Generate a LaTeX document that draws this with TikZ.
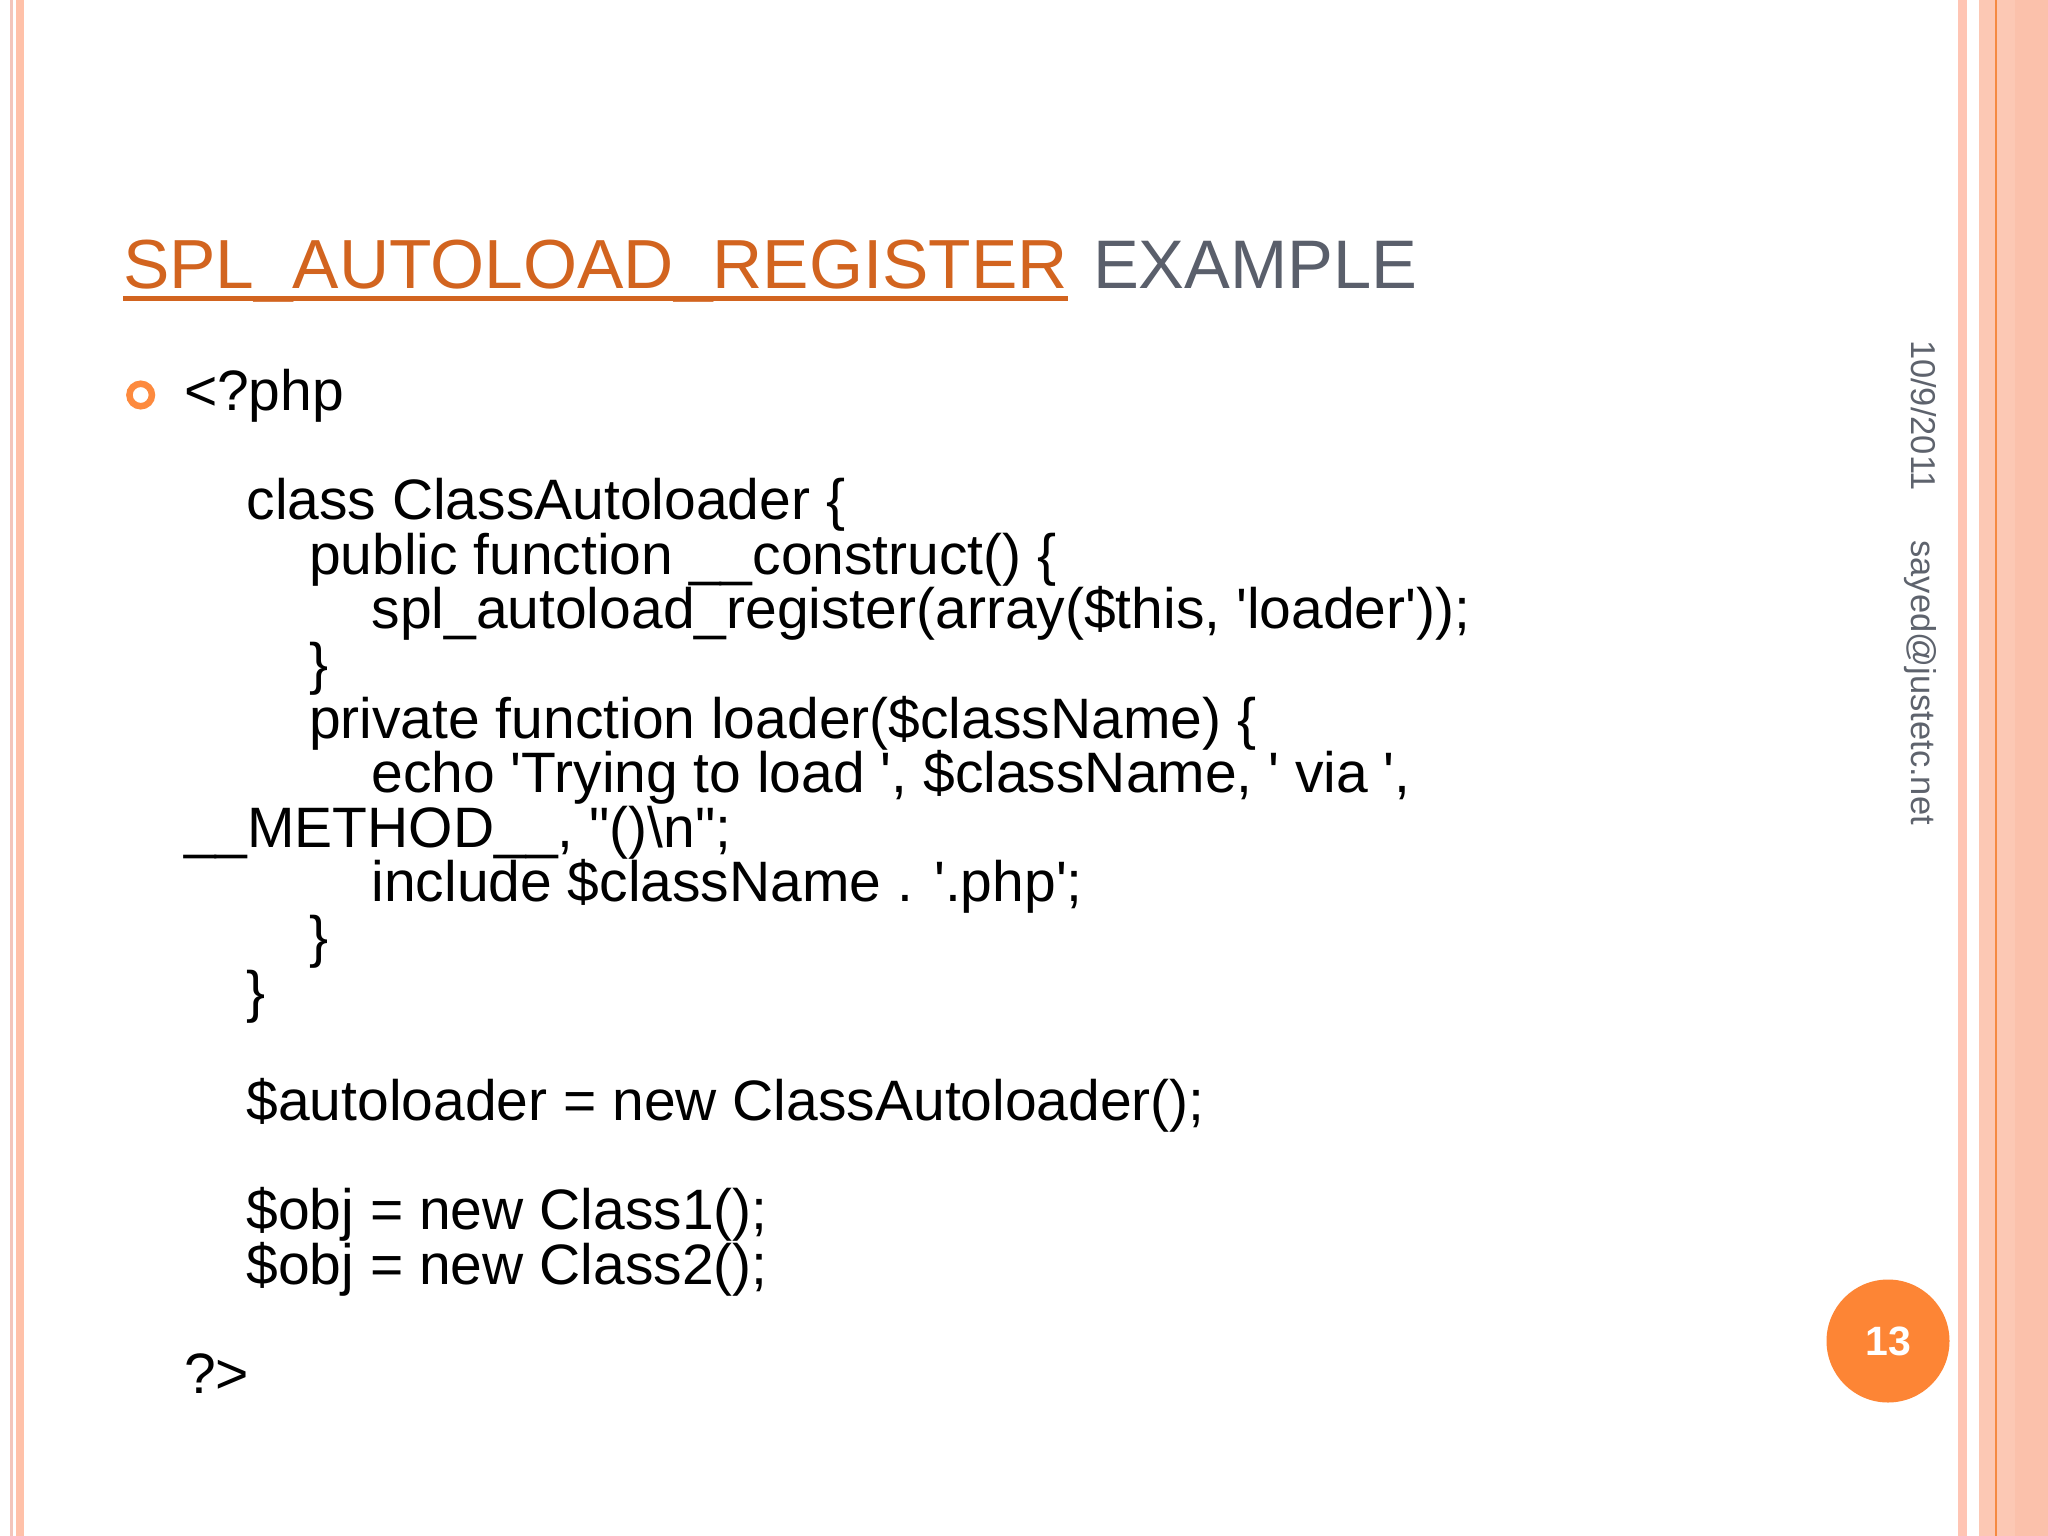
\documentclass[tikz,border=0pt]{standalone}
\usepackage{fontspec}
\setmainfont{Liberation Sans}
\definecolor{titleorange}{HTML}{D2641F}
\definecolor{titlegray}{HTML}{5A5F6B}
\definecolor{sidegray}{HTML}{5E636D}
\definecolor{bulletorange}{HTML}{FD8A3E}
\definecolor{pageorange}{HTML}{FD8535}
\definecolor{stripeA}{HTML}{F3C5BB}
\definecolor{stripeB}{HTML}{FFC1A9}
\definecolor{stripeC}{HTML}{FFC5B4}
\definecolor{stripeD}{HTML}{FCC8B4}
\definecolor{stripeE}{HTML}{FBC1AB}
\definecolor{stripeline}{HTML}{F58A42}
\newcommand\codesize{\fontsize{57}{54.6}\selectfont}
\newcommand\titlesize{\fontsize{69.5}{70}\selectfont}
\newcommand\sidesize{\fontsize{34.5}{36}\selectfont}
\newcommand\sq{\textquotesingle}
\newcommand\dq{\textquotedbl}
\tikzset{
  code/.style={anchor=base west, inner sep=0pt, outer sep=0pt, font=\codesize, text=black},
  titletext/.style={anchor=base west, inner sep=0pt, outer sep=0pt, font=\titlesize},
  sidetext/.style={anchor=base west, inner sep=0pt, outer sep=0pt, font=\sidesize, text=sidegray, rotate=-90},
  bulletring/.style={circle, draw=bulletorange, line width=6.5pt, minimum size=22.5pt, inner sep=0pt},
  pagebadge/.style={circle, fill=pageorange, minimum size=123pt, inner sep=0pt, text=white, font=\fontsize{41}{41}\selectfont\bfseries}
}
\begin{document}
\begin{tikzpicture}[x=1pt,y=-1pt]
\useasboundingbox (0,0) rectangle (2048,1536);
\fill[white] (0,0) rectangle (2048,1536);
% left border stripes
\fill[stripeA] (10,0) rectangle (13.3,1536);
\fill[stripeB] (15.7,0) rectangle (24,1536);
% right border stripes
\fill[stripeC] (1958.3,0) rectangle (1967.3,1536);
\fill[stripeD] (1979,0) rectangle (2048,1536);
\fill[stripeE] (2015,0) rectangle (2048,1536);
\fill[stripeline] (1995.3,0) rectangle (1997.3,1536);
% title
\node[titletext, text=titleorange] (t1) at (123,288) {SPL\_AUTOLOAD\_REGISTER};
\node[titletext, text=titlegray, font=\fontsize{68.7}{70}\selectfont] (t2) at (1093,288) {EXAMPLE};
\draw[titleorange, line width=5pt] ([yshift=-10.5pt]t1.base west) -- ([yshift=-10.5pt]t1.base east);
% bullet
\node[bulletring] (bullet) at (140.7,395) {};
% code lines
\node[code] (l00) at (184,410.5) {<?php};
\node[code] (l02) at (246.5,519.7) {class ClassAutoloader \{};
\node[code] (l03) at (309,574.3) {public function \_\_construct() \{};
\node[code] (l04) at (371.5,628.9) {spl\_autoload\_register(array(\$this, \sq loader\sq));};
\node[code] (l05) at (309,683.5) {\}};
\node[code] (l06) at (309,738.1) {private function loader(\$className) \{};
\node[code] (l07) at (371.5,792.7) {echo \sq Trying to load \sq, \$className, \sq\ via \sq,};
\node[code] (l08) at (184,847.3) {\_\_METHOD\_\_, \dq()\textbackslash n\dq;};
\node[code] (l09) at (371.5,901.9) {include \$className . \sq.php\sq;};
\node[code] (l10) at (309,956.5) {\}};
\node[code] (l11) at (246.5,1011.1) {\}};
\node[code] (l13) at (246.5,1120.3) {\$autoloader = new ClassAutoloader();};
\node[code] (l15) at (246.5,1229.5) {\$obj = new Class1();};
\node[code] (l16) at (246.5,1284.1) {\$obj = new Class2();};
\node[code] (l18) at (184,1393.3) {?>};
% side texts
\node[sidetext] (date) at (1911,340) {10/9/2011};
\node[sidetext] (mail) at (1911,540.5) {sayed@justetc.net};
% page number
\node[pagebadge] (page) at (1888,1341) {13};
\end{tikzpicture}
\end{document}
